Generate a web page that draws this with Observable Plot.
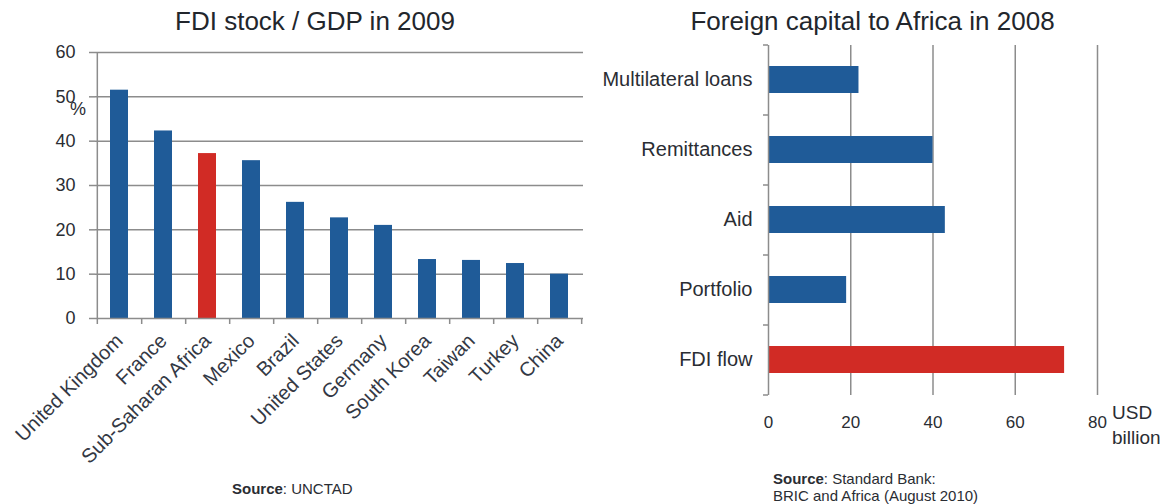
<!DOCTYPE html>
<html><head><meta charset="utf-8">
<script src="https://cdn.jsdelivr.net/npm/d3@7"></script>
<script src="https://cdn.jsdelivr.net/npm/@observablehq/plot@0.6"></script>
<style>
body{margin:0;background:#fff;font-family:"Liberation Sans",Arial,sans-serif;color:#2a2d33}
#wrap{position:relative;width:1170px;height:504px;overflow:hidden;background:#fff}
.abs{position:absolute;white-space:nowrap}
.title{font-size:26px;color:#22262c}
.src{font-size:15px;line-height:17px;color:#2a2d33}
svg{position:absolute;top:0}
</style></head><body><div id="wrap"></div>
<script>
// ---- Left chart data: FDI stock / GDP in 2009 (%)
const countries = ["United Kingdom","France","Sub-Saharan Africa","Mexico","Brazil","United States","Germany","South Korea","Taiwan","Turkey","China"];
const fdiStockPct = [51.5,42.3,37.2,35.6,26.2,22.7,21.0,13.3,13.1,12.4,10.0];
const highlightCountry = "Sub-Saharan Africa";
const leftTicks = [0,10,20,30,40,50,60];

// ---- Right chart data: Foreign capital to Africa in 2008 (USD billion)
const flowTypes = ["Multilateral loans","Remittances","Aid","Portfolio","FDI flow"];
const flowValues = [22,40,43,19,72];
const highlightFlow = "FDI flow";
const rightTicks = [0,20,40,60,80];

const BLUE = "#1f5b98", RED = "#d12b25", GRID = "#8c8c8c";
const FONT = "Liberation Sans, Arial, sans-serif";
const wrap = document.getElementById("wrap");

// ---------- Left chart
const leftData = countries.map((c,i)=>({country:c, value:fdiStockPct[i]}));
const L = {w:590,h:504,top:52,right:7,bottom:186,left:95};
const lStep = (L.w-L.left-L.right)/countries.length;
const lUnit = 60/(L.h-L.top-L.bottom);
const left = Plot.plot({
  width:L.w, height:L.h, marginTop:L.top, marginRight:L.right, marginBottom:L.bottom, marginLeft:L.left,
  style:{fontFamily:FONT, color:"#2a2d33", background:"transparent", overflow:"visible"},
  x:{type:"band", domain:countries, paddingInner:0.6, paddingOuter:0.3},
  y:{domain:[0,60]},
  marks:[
    Plot.gridY(leftTicks.filter(d=>d>0), {stroke:GRID, strokeOpacity:1, strokeWidth:1.5}),
    Plot.axisY(leftTicks, {tickSize:6, tickPadding:14, fontSize:18, stroke:GRID, strokeWidth:1.5, fill:"#2a2d33", label:null}),
    Plot.barY(leftData, {x:"country", y:"value", fill:d=>d.country===highlightCountry?RED:BLUE}),
    Plot.ruleY([0], {stroke:GRID, strokeWidth:1.5}),
    Plot.ruleX([countries[0]], {x:d=>d, dx:-lStep/2, y1:-6*lUnit, y2:60, stroke:GRID, strokeWidth:1.5}),
    Plot.ruleX(countries, {x:d=>d, dx:lStep/2, y1:-6*lUnit, y2:0, stroke:GRID, strokeWidth:1.5}),
    Plot.axisX({tickRotate:-45, tickSize:0, tickPadding:19, fontSize:20, fill:"#333844", label:null})
  ]
});
left.style.left = "0px";
wrap.appendChild(left);

// ---------- Right chart
const rightData = flowTypes.map((t,i)=>({type:t, value:flowValues[i]}));
const R = {x0:580,w:590,h:504,top:45,right:73,bottom:109,left:188};
const rStep = (R.h-R.top-R.bottom)/flowTypes.length;
const rUnit = 80/(R.w-R.left-R.right);
const right = Plot.plot({
  width:R.w, height:R.h, marginTop:R.top, marginRight:R.right, marginBottom:R.bottom, marginLeft:R.left,
  style:{fontFamily:FONT, color:"#2a2d33", background:"transparent", overflow:"visible"},
  x:{domain:[0,80]},
  y:{type:"band", domain:flowTypes, paddingInner:0.61, paddingOuter:0.305},
  marks:[
    Plot.gridX(rightTicks.filter(d=>d>0), {stroke:GRID, strokeOpacity:1, strokeWidth:1.5}),
    Plot.barX(rightData, {y:"type", x:"value", fill:d=>d.type===highlightFlow?RED:BLUE}),
    Plot.ruleX([0], {stroke:GRID, strokeWidth:1.5}),
    Plot.ruleY([flowTypes[0]], {y:d=>d, dy:-rStep/2, x1:-5*rUnit, x2:0, stroke:GRID, strokeWidth:1.5}),
    Plot.ruleY(flowTypes, {y:d=>d, dy:rStep/2, x1:-5*rUnit, x2:0, stroke:GRID, strokeWidth:1.5}),
    Plot.axisY({tickSize:0, tickPadding:16, fontSize:20, fill:"#2a2d33", label:null}),
    Plot.axisX(rightTicks, {tickSize:0, tickPadding:20, fontSize:17, fill:"#2a2d33", label:null})
  ]
});
right.style.left = R.x0 + "px";
wrap.appendChild(right);

// ---------- Text overlays
function add(html, css, cls){
  const d = document.createElement("div");
  d.className = "abs " + (cls||"");
  d.innerHTML = html;
  Object.assign(d.style, css);
  wrap.appendChild(d);
  return d;
}
add("FDI stock / GDP in 2009", {left:"0px", width:"630px", textAlign:"center", top:"6px"}, "title");
add("Foreign capital to Africa in 2008", {left:"600px", width:"545px", textAlign:"center", top:"6px"}, "title");
add("%", {left:"70px", top:"99px", fontSize:"18px"});
add("USD<br>billion", {left:"1112px", top:"400px", fontSize:"19px", lineHeight:"25px"});
add("<b>Source</b>: UNCTAD", {left:"232px", top:"480px"}, "src");
add("<b>Source</b>: Standard Bank:<br>BRIC and Africa (August 2010)", {left:"773px", top:"470px"}, "src");
</script></body></html>
